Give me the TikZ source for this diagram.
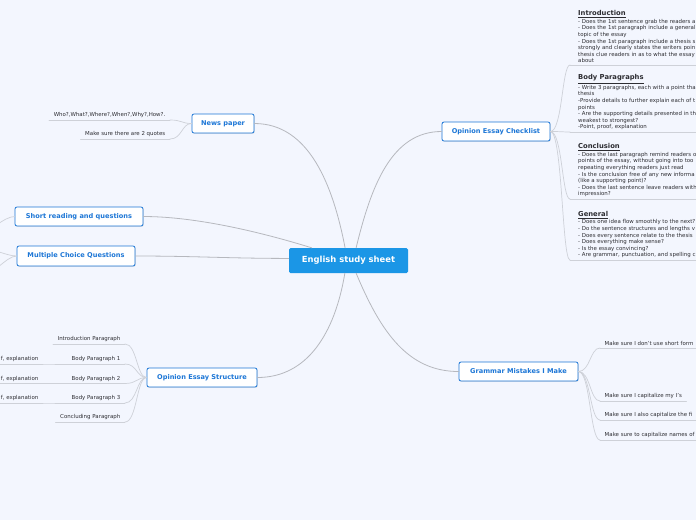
\documentclass[tikz,border=0pt]{standalone}
\usepackage{fontspec}
\setmainfont{DejaVu Sans}
\usetikzlibrary{shadows}
\definecolor{mapbg}{RGB}{243,246,254}
\definecolor{rootblue}{RGB}{27,150,230}
\definecolor{topicblue}{RGB}{28,118,214}
\definecolor{linkgray}{RGB}{182,184,190}
\definecolor{ulgray}{RGB}{206,209,216}
\definecolor{leaftext}{RGB}{45,45,50}
\newcommand{\leaffont}{\fontsize{5.45}{6.6}\selectfont}
\newcommand{\headfont}{\fontsize{6.8}{7.4}\selectfont\bfseries}
\begin{document}
\begin{tikzpicture}[x=1pt,y=-1pt,line cap=round,line join=round,
  root/.style={fill=rootblue,rounded corners=1.5pt,text=white,font=\fontsize{8.4}{10}\selectfont\bfseries,
    minimum width=119pt,minimum height=25pt,inner sep=0pt},
  topic/.style={fill=white,draw=topicblue,line width=.8pt,rounded corners=2pt,text=topicblue,
    font=\fontsize{6.6}{8}\selectfont\bfseries,minimum height=19pt,inner sep=0pt,
    drop shadow={shadow xshift=.7pt,shadow yshift=-.7pt,opacity=.25}},
  leaf/.style={text=leaftext,font=\leaffont,inner xsep=4.5pt,inner ysep=1.8pt},
  note/.style={leaf,align=left,inner xsep=8pt},
  link/.style={draw=linkgray,line width=.8pt},
  twig/.style={draw=ulgray,line width=.7pt}]
  \fill[mapbg] (0,0) rectangle (696,520);
  \useasboundingbox (0,0) rectangle (696,520);
  \clip (0,0) rectangle (696,520);
  % main topics
  \node[root] (root) at (348.5,260.5) {English study sheet};
  \node[topic,minimum width=62pt] (news) at (223,123.5) {News paper};
  \node[topic,minimum width=128pt] (short) at (79,216.5) {Short reading and questions};
  \node[topic,minimum width=118pt,minimum height=20pt] (mcq) at (76,256) {Multiple Choice Questions};
  \node[topic,minimum width=110pt] (oes) at (202,377.5) {Opinion Essay Structure};
  \node[topic,minimum width=108pt] (oec) at (496,131.5) {Opinion Essay Checklist};
  \node[topic,minimum width=119pt] (gram) at (518.5,371.5) {Grammar Mistakes I Make};
  \draw[link] (root.105) .. controls +(-12,-62) and +(55,0) .. (news.east);
  \draw[link] (root.161) .. controls +(-45,-14) and +(55,0) .. (short.east);
  \draw[link] (root.178) .. controls +(-60,0) and +(60,0) .. (mcq.east);
  \draw[link] (root.254) .. controls +(-10,60) and +(50,0) .. (oes.east);
  \draw[link] (root.59) .. controls +(15,-62) and +(-50,0) .. (oec.west);
  \draw[link] (root.301) .. controls +(25,60) and +(-50,0) .. (gram.west);
  % news paper
  \node[leaf,anchor=south east] (n1) at (170,120) {Who?,What?,Where?,When?,Why?,How?.};
  \node[leaf,anchor=south east] (n2) at (170,139) {Make sure there are 2 quotes};
  \foreach \n in {n1,n2}
    \draw[twig] (\n.south east) .. controls +(12,0) and +(-10,0) .. (news.west);
  % cut-off children on the left
  \coordinate (sc1) at (-20,238);
  \coordinate (mc1) at (-18,248);
  \coordinate (mc2) at (-18,276);
  \draw[twig] (short.west) .. controls +(-10,0) and +(8,-6) .. (sc1);
  \foreach \c in {mc1,mc2}
    \draw[twig] (mcq.west) .. controls +(-10,0) and +(10,0) .. (\c);
  % essay structure
  \node[leaf,anchor=south east] (s1) at (125,344) {Introduction Paragraph};
  \node[leaf,anchor=south east] (s2) at (125,364) {Body Paragraph 1};
  \node[leaf,anchor=south east] (s3) at (125,383.5) {Body Paragraph 2};
  \node[leaf,anchor=south east] (s4) at (125,403) {Body Paragraph 3};
  \node[leaf,anchor=south east] (s5) at (125,422) {Concluding Paragraph};
  \foreach \n in {s1,s2,s3,s4,s5}
    \draw[twig] (\n.south east) .. controls +(12,0) and +(-10,0) .. (oes.west);
  \node[leaf,anchor=south east] (g2) at (43,364) {f, explanation};
  \node[leaf,anchor=south east] (g3) at (43,383.5) {f, explanation};
  \node[leaf,anchor=south east] (g4) at (43,403) {f, explanation};
  \coordinate (g2l) at (-5,364);
  \coordinate (g3l) at (-5,383.5);
  \coordinate (g4l) at (-5,403);
  \draw[twig] (g2l) -- (g2.south east) -- (s2.south west);
  \draw[twig] (g3l) -- (g3.south east) -- (s3.south west);
  \draw[twig] (g4l) -- (g4.south east) -- (s4.south west);
  % checklist
  \node[note,anchor=south west] (c1) at (570,65) {{\headfont\underline{Introduction}}\\[.8pt]
    - Does the 1st sentence grab the readers a\\
    - Does the 1st paragraph include a general\\
    topic of the essay\\
    - Does the 1st paragraph include a thesis s\\
    strongly and clearly states the writers poin\\
    thesis clue readers in as to what the essay\\
    about};
  \node[note,anchor=south west] (c2) at (570,132) {{\headfont\underline{Body Paragraphs}}\\[.8pt]
    - Write 3 paragraphs, each with a point tha\\
    thesis\\
    -Provide details to further explain each of t\\
    points\\
    - Are the supporting details presented in th\\
    weakest to strongest?\\
    -Point, proof, explanation};
  \node[note,anchor=south west] (c3) at (570,199) {{\headfont\underline{Conclusion}}\\[.8pt]
    - Does the last paragraph remind readers o\\
    points of the essay, without going into too\\
    repeating everything readers just read\\
    - Is the conclusion free of any new informa\\
    (like a supporting point)?\\
    - Does the last sentence leave readers with\\
    impression?};
  \node[note,anchor=south west] (c4) at (570,260) {{\headfont\underline{General}}\\[.8pt]
    - Does one idea flow smoothly to the next?\\
    - Do the sentence structures and lengths v\\
    - Does every sentence relate to the thesis\\
    - Does everything make sense?\\
    - Is the essay convincing?\\
    - Are grammar, punctuation, and spelling c};
  \foreach \n in {c1,c2,c3,c4}
    \draw[twig] (oec.east) .. controls +(12,0) and +(-8,0) .. (\n.south west);
  % grammar
  \node[leaf,anchor=south west] (m1) at (600,348) {Make sure I don't use short form};
  \node[leaf,anchor=south west] (m2) at (600,401) {Make sure I capitalize my I's};
  \node[leaf,anchor=south west] (m3) at (600,420) {Make sure I also capitalize the fi};
  \node[leaf,anchor=south west] (m4) at (600,440) {Make sure to capitalize names of};
  \foreach \n in {m1,m2,m3,m4}
    \draw[twig] (gram.east) .. controls +(12,0) and +(-10,0) .. (\n.south west);
  \foreach \n in {n1,n2,s1,s2,s3,s4,s5,g2,g3,g4,c1,c2,c3,c4,m1,m2,m3,m4}
    \draw[twig] (\n.south west) -- (\n.south east);
\end{tikzpicture}
\end{document}
